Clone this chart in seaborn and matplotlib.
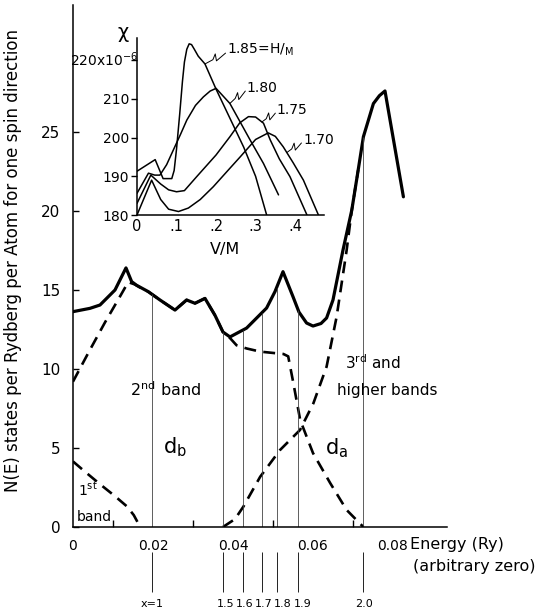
import numpy as np
import matplotlib
matplotlib.use("Agg")
import matplotlib.pyplot as plt
import seaborn as sns

# ---- total density of states N(E), states / Ry / atom / spin ----
energy_total = [0.0, 0.00425, 0.00675, 0.0105, 0.01325, 0.01467, 0.0159, 0.0188,
                0.02175, 0.0255, 0.0284, 0.0305, 0.033, 0.0355, 0.0375, 0.03925,
                0.0434, 0.0484, 0.0505, 0.0525, 0.055, 0.0565, 0.0584, 0.06,
                0.062, 0.0634, 0.065, 0.0675, 0.0697, 0.0713, 0.0726, 0.0751,
                0.0766, 0.078, 0.0826]
dos_total = [13.63, 13.84, 14.05, 15.0, 16.4, 15.53, 15.3, 14.9,
             14.37, 13.73, 14.37, 14.16, 14.47, 13.4, 12.34, 12.03,
             12.59, 13.86, 14.9, 16.16, 14.58, 13.6, 12.91, 12.72,
             12.88, 13.23, 14.37, 17.53, 20.06, 22.6, 24.7, 26.8,
             27.3, 27.6, 20.9]

# ---- band contributions (dashed) ----
energy_band1 = [0.0, 0.003, 0.0068, 0.0105, 0.0135, 0.0152, 0.0168]
dos_band1 = [4.15, 3.5, 2.7, 1.95, 1.3, 0.75, 0.0]

energy_band2 = [0.0, 0.004, 0.008, 0.012, 0.0138, 0.0155, 0.0175, 0.0188,
                0.02175, 0.0255, 0.0284, 0.0305, 0.033, 0.0355, 0.0375, 0.03925,
                0.0409, 0.0434, 0.0468, 0.0526, 0.0538, 0.0551, 0.0568, 0.06,
                0.0643, 0.0684, 0.0726]
dos_band2 = [9.2, 11.1, 12.95, 14.7, 15.5, 15.35, 15.05, 14.9,
             14.37, 13.73, 14.37, 14.16, 14.47, 13.4, 12.34, 11.96,
             11.5, 11.3, 11.1, 10.95, 10.8, 9.1, 6.77, 4.68,
             2.78, 1.08, 0.0]

energy_band3 = [0.0375, 0.0405, 0.0426, 0.0468, 0.05175, 0.05675, 0.0601,
                0.0634, 0.0659, 0.0684, 0.0697, 0.0713]
dos_band3 = [0.0, 0.5, 1.29, 3.18, 4.87, 6.14, 7.83,
             10.15, 13.3, 17.5, 20.06, 22.6]

# ---- Fermi level for each hydrogen content H/M ----
fermi_energy = [0.0198, 0.0375, 0.0424, 0.0472, 0.0509, 0.0563, 0.0726]
fermi_labels = ["x=1", "1.5", "1.6", "1.7", "1.8", "1.9", "2.0"]
label_shift = [0.0, 0.00075, 0.0006, 0.0006, 0.0016, 0.00125, 0.0002]

# ---- inset: susceptibility chi vs V/M ----
vm_185 = [0.0, 0.046, 0.066, 0.088, 0.094, 0.1, 0.108, 0.115, 0.12, 0.126,
          0.132, 0.138, 0.145, 0.155, 0.172, 0.2, 0.235, 0.27, 0.3, 0.328]
chi_185 = [191.3, 194.3, 189.4, 189.4, 191.5, 197.0, 206.0, 214.5, 219.5, 222.8,
           224.2, 224.0, 222.8, 221.0, 219.0, 212.5, 205.0, 197.5, 190.0, 180.0]

vm_180 = [0.0, 0.029, 0.045, 0.058, 0.075, 0.092, 0.11, 0.126, 0.148, 0.168,
          0.185, 0.2, 0.235, 0.26, 0.286, 0.32, 0.358]
chi_180 = [185.6, 190.8, 190.3, 190.3, 193.0, 196.8, 200.8, 204.5, 208.3, 210.5,
           212.0, 212.7, 208.8, 204.2, 199.4, 193.3, 185.2]

vm_175 = [0.0, 0.035, 0.06, 0.08, 0.1, 0.12, 0.151, 0.2, 0.235, 0.26,
          0.282, 0.3, 0.32, 0.337, 0.36, 0.387, 0.43]
chi_175 = [183.0, 190.3, 188.0, 186.5, 186.0, 186.3, 189.9, 195.5, 200.2, 203.8,
           205.4, 205.3, 203.7, 199.4, 194.5, 189.9, 180.0]

vm_170 = [0.0, 0.037, 0.06, 0.08, 0.105, 0.13, 0.16, 0.193, 0.23, 0.261,
          0.3, 0.332, 0.35, 0.37, 0.395, 0.421, 0.459]
chi_170 = [180.0, 189.0, 184.0, 181.5, 180.9, 181.8, 184.0, 187.3, 191.5, 195.0,
           199.5, 201.2, 200.3, 197.6, 193.5, 189.0, 180.0]

inset_labels = ["1.85=H/$_{M}$", "1.80", "1.75", "1.70"]
label_vm = [0.228, 0.278, 0.354, 0.42]
label_chi = [222.6, 212.8, 207.1, 199.4]
leader_vm = [0.172, 0.235, 0.316, 0.379]

sns.set_style("ticks")
plt.rcParams["font.family"] = ["DejaVu Sans"]
plt.rcParams["mathtext.default"] = "regular"
plt.rcParams["axes.linewidth"] = 1.1
for key in ("text.color", "axes.labelcolor", "xtick.color", "ytick.color",
            "axes.edgecolor"):
    plt.rcParams[key] = "black"

fig = plt.figure(figsize=(5.37, 6.11), dpi=100)
ax = fig.add_axes([0.1359, 0.1375, 0.6965, 0.8543])

ink = "black"
dash = (0, (4.5, 2.8))

sns.lineplot(x=energy_band1, y=dos_band1, ax=ax, color=ink, linewidth=1.9,
             linestyle=dash, sort=False, estimator=None)
sns.lineplot(x=energy_band2, y=dos_band2, ax=ax, color=ink, linewidth=1.9,
             linestyle=dash, sort=False, estimator=None)
sns.lineplot(x=energy_band3, y=dos_band3, ax=ax, color=ink, linewidth=1.9,
             linestyle=dash, sort=False, estimator=None)
sns.lineplot(x=energy_total, y=dos_total, ax=ax, color=ink, linewidth=2.3,
             sort=False, estimator=None)

# Fermi level markers: from the axis up to the total DOS, and below the axis
tops = np.interp(fermi_energy, energy_total, dos_total)
ax.vlines(fermi_energy, 0, tops, color="#444444", linewidth=0.6)
ax.vlines(fermi_energy, -1.6, -4.1, color="#222222", linewidth=0.7, clip_on=False)
for e, lab, s in zip(fermi_energy, fermi_labels, label_shift):
    ax.text(e + s, -4.85, lab, ha="center", va="center", fontsize=8)

ax.set_xlim(0, 0.0935)
ax.set_ylim(0, 33.04)
sns.despine(ax=ax)

ax.set_xticks([0, 0.02, 0.04, 0.06, 0.08])
ax.set_xticklabels(["0", "0.02", "0.04", "0.06", "0.08"])
ax.set_xticks([0.01, 0.03, 0.05, 0.06, 0.07], minor=True)
ax.tick_params(axis="x", which="major", length=0, pad=9, labelsize=10)
ax.tick_params(axis="x", which="minor", direction="in", length=5, width=1.0)
ax.set_yticks([0, 5, 10, 15, 20, 25])
ax.tick_params(axis="y", direction="in", length=4, width=1.0, pad=9, labelsize=11)

ax.set_ylabel("N(E) states per Rydberg per Atom for one spin direction",
              fontsize=12)
ax.yaxis.set_label_coords(-0.136, 0.51)

ax.text(0.08425, -1.14, "Energy (Ry)", ha="left", va="center", fontsize=11.5,
        clip_on=False)
ax.text(0.1155, -2.53, "(arbitrary zero)", ha="right", va="center",
        fontsize=11.5, clip_on=False)

ax.text(0.01425, 8.67, "2$^{nd}$ band", ha="left", va="center", fontsize=11.5)
ax.text(0.068, 10.4, "3$^{rd}$ and", ha="left", va="center", fontsize=11)
ax.text(0.066, 8.67, "higher bands", ha="left", va="center", fontsize=11)
ax.text(0.0225, 5.06, "d$_{b}$", ha="left", va="center", fontsize=15)
ax.text(0.063, 4.99, "d$_{a}$", ha="left", va="center", fontsize=15)
ax.text(0.00125, 2.34, "1$^{st}$", ha="left", va="center", fontsize=10)
ax.text(0.001, 0.63, "band", ha="left", va="center", fontsize=10)

# ---- inset ----
axi = fig.add_axes([0.2551, 0.6481, 0.3482, 0.2897])
axi.set_facecolor("white")
curves = [(vm_185, chi_185), (vm_180, chi_180), (vm_175, chi_175), (vm_170, chi_170)]
for vm, chi in curves:
    sns.lineplot(x=vm, y=chi, ax=axi, color=ink, linewidth=1.1,
                 sort=False, estimator=None)

for (vm, chi), lab, lv, lc, sv in zip(curves, inset_labels, label_vm, label_chi,
                                      leader_vm):
    sc = np.interp(sv, vm, chi)
    ev, ec = lv - 0.004, lc - 0.8
    mv, mc = (sv + ev) / 2, (sc + ec) / 2
    axi.plot([sv, mv - 0.006, mv, mv + 0.003, ev],
             [sc, mc - 0.3, mc + 1.2, mc - 0.6, ec],
             color=ink, linewidth=0.7, clip_on=False)
    axi.text(lv, lc, lab, ha="left", va="center", fontsize=10)

axi.set_xlim(0, 0.473)
axi.set_ylim(180, 225.7)
sns.despine(ax=axi)
axi.set_xticks([0, 0.1, 0.2, 0.3, 0.4])
axi.set_xticklabels(["0", ".1", ".2", ".3", ".4"])
axi.set_yticks([180, 190, 200, 210, 220])
axi.set_yticklabels(["180", "190", "200", "210", ""])
axi.tick_params(axis="x", length=0, pad=3, labelsize=10.5)
axi.tick_params(axis="y", direction="out", length=4, width=1.0, pad=1.5,
                labelsize=10)
axi.text(0.005, 220, "220x10$^{-6}$", transform=axi.get_yaxis_transform(),
         ha="right", va="center", fontsize=10)
axi.set_xlabel("V/M", fontsize=11.5)
axi.xaxis.set_label_coords(0.47, -0.15)
axi.text(-0.075, 1.03, "χ", transform=axi.transAxes, ha="center",
         va="center", fontsize=14)

fig.savefig("out.png", dpi=100)
